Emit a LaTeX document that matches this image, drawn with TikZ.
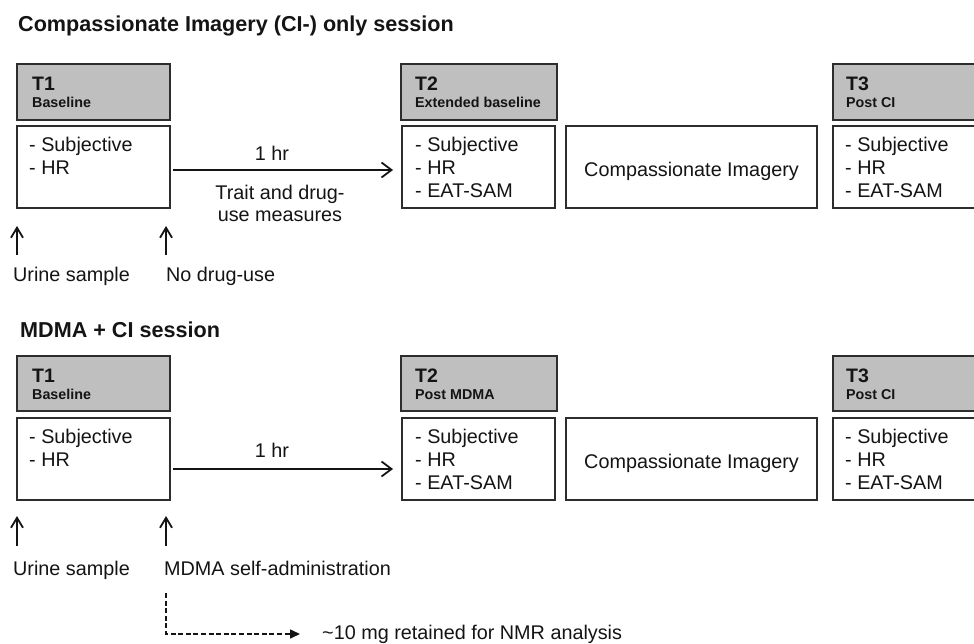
\documentclass[tikz,border=0pt]{standalone}
\usepackage{fontspec}
\setmainfont{Liberation Sans}
\usetikzlibrary{arrows.meta,calc}
\definecolor{boxgray}{RGB}{191,191,191}
\definecolor{ink}{RGB}{20,20,20}
\definecolor{edgec}{RGB}{45,45,45}
\begin{document}
\begin{tikzpicture}[x=1pt,y=-1pt,
  graybox/.style={draw=edgec, line width=1.4pt, fill=boxgray, anchor=north west, inner sep=0pt, outer sep=0pt},
  whitebox/.style={draw=edgec, line width=1.4pt, fill=white, anchor=north west, inner sep=0pt, outer sep=0pt},
  txt/.style={inner sep=0pt, anchor=base west, text=ink, font=\fontsize{19.8}{23}\selectfont},
  ctxt/.style={txt, anchor=base},
  ttl/.style={inner sep=0pt, anchor=base west, text=ink, font=\bfseries\fontsize{21.6}{25}\selectfont},
  tlab/.style={inner sep=0pt, anchor=base west, text=ink, font=\bfseries\fontsize{19.5}{22}\selectfont},
  tsub/.style={inner sep=0pt, anchor=base west, text=ink, font=\bfseries\fontsize{14.3}{17}\selectfont},
  arr/.style={draw=ink, line width=1.8pt, -{Straight Barb[length=10pt,width=15pt]}},
  uparr/.style={draw=ink, line width=1.8pt, -{Straight Barb[length=10pt,width=12pt]}},
  dasharr/.style={draw=ink, line width=1.6pt, dash pattern=on 5pt off 2.6pt, -{Triangle[length=10pt,width=9pt]}}
]
\useasboundingbox (0,0) rectangle (974,644);
\clip (0,0) rectangle (974,644);

% ---------------- Top session ----------------
\node[ttl] (title1) at (18,32) {Compassionate Imagery (CI-) only session};

\node[graybox, minimum width=153pt, minimum height=56pt] (t1g) at (17,64) {};
\node[whitebox, minimum width=153pt, minimum height=82pt] (t1w) at (17,126) {};
\node[graybox, minimum width=156pt, minimum height=56pt] (t2g) at (401,64) {};
\node[whitebox, minimum width=153pt, minimum height=82pt] (t2w) at (402,126) {};
\node[whitebox, minimum width=251pt, minimum height=82pt] (ci1) at (566,126) {};
\node[graybox, minimum width=170pt, minimum height=56pt] (t3g) at (833,64) {};
\node[whitebox, minimum width=170pt, minimum height=82pt] (t3w) at (833,126) {};

\node[tlab] (t1gl) at (32,91) {T1};
\node[tsub] (t1gs) at (32,108) {Baseline};
\node[tlab] (t2gl) at (415,91) {T2};
\node[tsub] (t2gs) at (415,108) {Extended baseline};
\node[tlab] (t3gl) at (846,91) {T3};
\node[tsub] (t3gs) at (846,108) {Post CI};

\node[txt] (t1a) at (29,152) {- Subjective};
\node[txt] (t1b) at (29,175) {- HR};
\node[txt] (t2a) at (415,152) {- Subjective};
\node[txt] (t2b) at (415,175) {- HR};
\node[txt] (t2c) at (415,198) {- EAT-SAM};
\node[txt] (t3a) at (845,152) {- Subjective};
\node[txt] (t3b) at (845,175) {- HR};
\node[txt] (t3c) at (845,198) {- EAT-SAM};
\node[ctxt] (ci1t) at (691.5,177) {Compassionate Imagery};

\draw[arr] ($(t1w.east)+(3,3)$) -- ($(t2w.west)+(-9,3)$);
\node[ctxt] (hr1) at (272,161) {1 hr};
\node[ctxt] (tr1) at (280,200) {Trait and drug-};
\node[ctxt] (tr2) at (280,222) {use measures};

\coordinate (u1s) at (17,255); \coordinate (u1e) at (17,226);
\coordinate (u2s) at (166,255); \coordinate (u2e) at (166,226);
\draw[uparr] (u1s) -- (u1e);
\draw[uparr] (u2s) -- (u2e);
\node[txt] (urine1) at (13,281) {Urine sample};
\node[txt] (nodrug) at (166,281) {No drug-use};

% ---------------- Bottom session ----------------
\node[ttl] (title2) at (20,337) {MDMA + CI session};

\node[graybox, minimum width=153pt, minimum height=55pt] (b1g) at (17,356) {};
\node[whitebox, minimum width=153pt, minimum height=82pt] (b1w) at (17,418) {};
\node[graybox, minimum width=156pt, minimum height=55pt] (b2g) at (401,356) {};
\node[whitebox, minimum width=153pt, minimum height=82pt] (b2w) at (402,418) {};
\node[whitebox, minimum width=251pt, minimum height=82pt] (ci2) at (566,418) {};
\node[graybox, minimum width=170pt, minimum height=55pt] (b3g) at (833,356) {};
\node[whitebox, minimum width=170pt, minimum height=82pt] (b3w) at (833,418) {};

\node[tlab] (b1gl) at (32,382) {T1};
\node[tsub] (b1gs) at (32,399) {Baseline};
\node[tlab] (b2gl) at (415,382) {T2};
\node[tsub] (b2gs) at (415,399) {Post MDMA};
\node[tlab] (b3gl) at (846,382) {T3};
\node[tsub] (b3gs) at (846,399) {Post CI};

\node[txt] (b1a) at (29,443) {- Subjective};
\node[txt] (b1b) at (29,466) {- HR};
\node[txt] (b2a) at (415,443) {- Subjective};
\node[txt] (b2b) at (415,466) {- HR};
\node[txt] (b2c) at (415,489) {- EAT-SAM};
\node[txt] (b3a) at (845,443) {- Subjective};
\node[txt] (b3b) at (845,466) {- HR};
\node[txt] (b3c) at (845,489) {- EAT-SAM};
\node[ctxt] (ci2t) at (691.5,468) {Compassionate Imagery};

\draw[arr] ($(b1w.east)+(3,10)$) -- ($(b2w.west)+(-9,10)$);
\node[ctxt] (hr2) at (272,457) {1 hr};

\coordinate (v1s) at (17,546); \coordinate (v1e) at (17,516);
\coordinate (v2s) at (166,546); \coordinate (v2e) at (166,516);
\draw[uparr] (v1s) -- (v1e);
\draw[uparr] (v2s) -- (v2e);
\node[txt] (urine2) at (13,575) {Urine sample};
\node[txt] (mdma) at (164,575) {MDMA self-administration};

\coordinate (ds) at (166,593);
\node[txt] (nmr) at (322,639) {\textasciitilde10 mg retained for NMR analysis};
\coordinate (de) at (300,634);
\draw[dasharr] (ds) |- (de);
\end{tikzpicture}
\end{document}
